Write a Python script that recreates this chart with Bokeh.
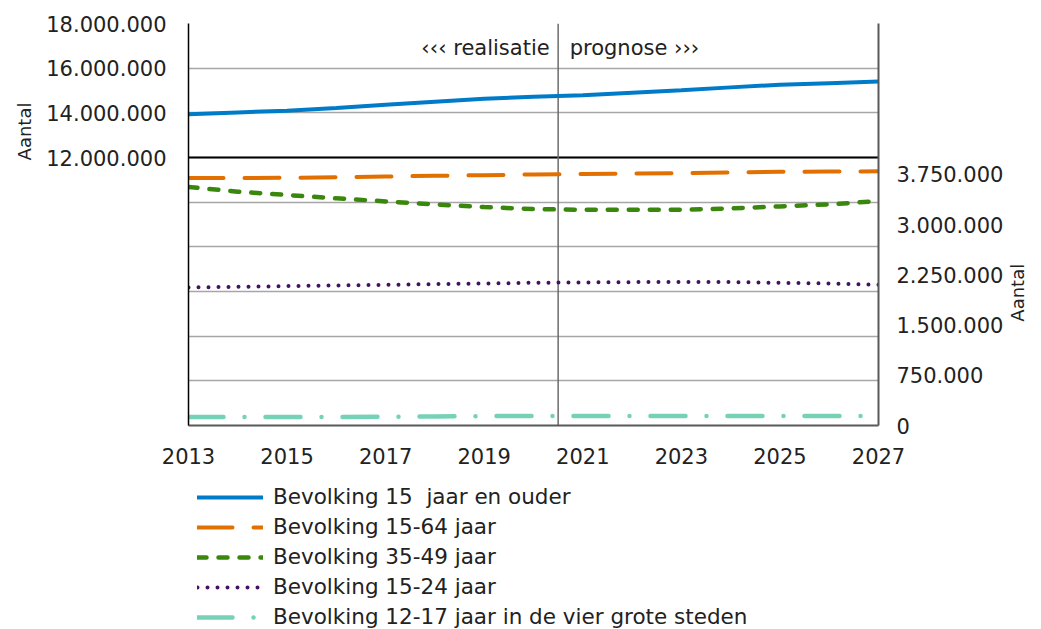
import math
from bokeh.plotting import figure
from bokeh.layouts import column
from bokeh.models import (Range1d, LinearAxis, FixedTicker, Span, Label,
                          Legend, LegendItem, ColumnDataSource)
from bokeh.embed import file_html
from bokeh.resources import INLINE

# ---------------- data ----------------
years = [2013, 2014, 2015, 2016, 2017, 2018, 2019, 2020,
         2021, 2022, 2023, 2024, 2025, 2026, 2027]

# left axis (0 - 18.000.000)
bev_15_plus = [13940000, 14020000, 14090000, 14220000, 14360000, 14500000, 14630000, 14720000,
               14790000, 14900000, 15010000, 15140000, 15260000, 15330000, 15400000]
bev_15_64 = [11080000, 11080000, 11090000, 11120000, 11150000, 11180000, 11210000, 11240000,
             11260000, 11280000, 11300000, 11330000, 11360000, 11370000, 11380000]

# right axis (0 - 6.000.000)
bev_35_49 = [3560000, 3490000, 3440000, 3390000, 3345000, 3300000, 3260000, 3230000,
             3220000, 3220000, 3220000, 3240000, 3270000, 3300000, 3350000]
bev_15_24 = [2060000, 2070000, 2080000, 2090000, 2100000, 2110000, 2120000, 2130000,
             2135000, 2140000, 2140000, 2140000, 2130000, 2120000, 2100000]
bev_12_17_g4 = [128000, 127000, 127000, 128000, 131000, 136000, 140000, 142000,
                143000, 143000, 143000, 143000, 143000, 143000, 143000]

series_labels = ["Bevolking 15  jaar en ouder", "Bevolking 15-64 jaar", "Bevolking 35-49 jaar",
                 "Bevolking 15-24 jaar", "Bevolking 12-17 jaar in de vier grote steden"]

x_ticks = [2013, 2015, 2017, 2019, 2021, 2023, 2025, 2027]
left_ticks = [12000000, 14000000, 16000000, 18000000]
left_tick_labels = ["12.000.000", "14.000.000", "16.000.000", "18.000.000"]
right_ticks = [0, 750000, 1500000, 2250000, 3000000, 3750000]
right_tick_labels = ["0", "750.000", "1.500.000", "2.250.000", "3.000.000", "3.750.000"]
grid_ticks = [0, 2000000, 4000000, 6000000, 8000000, 10000000, 12000000, 14000000, 16000000, 18000000]
left_range = (0, 18000000)
right_range = (0, 6000000)
split_year = 2020.5
divider_value = 12000000
axis_title = "Aantal"
left_title_at = 14460000     # anchor of the left "Aantal" (left scale)
right_title_at = 1550000     # anchor of the right "Aantal" (right scale)
left_note = "\u2039\u2039\u2039 realisatie"
right_note = "prognose \u203a\u203a\u203a"

# ---------------- style ----------------
FONT = "DejaVu Sans"
TXT = "#222222"
C_BLUE, C_ORANGE, C_GREEN, C_PURPLE, C_MINT = "#007BC7", "#E17000", "#39870C", "#42145F", "#76D2B6"
STYLES = [
    dict(line_color=C_BLUE, line_width=4, line_cap="round"),
    dict(line_color=C_ORANGE, line_width=4, line_cap="round", line_dash="35 21"),
    dict(line_color=C_GREEN, line_width=4.5, line_cap="round", line_dash="9 12"),
    dict(line_color=C_PURPLE, line_width=4, line_cap="round", line_dash="0 10"),
    dict(line_color=C_MINT, line_width=4.5, line_cap="round", line_dash="35 21 0 21"),
]

src = ColumnDataSource(dict(year=years, b15p=bev_15_plus, b1564=bev_15_64,
                            b3549=bev_35_49, b1524=bev_15_24, b1217=bev_12_17_g4))

W = 1041
p = figure(width=W, height=470, x_range=Range1d(years[0], years[-1]),
           y_range=Range1d(*left_range), output_backend="svg", toolbar_location=None,
           min_border_left=188, min_border_right=W - 878, min_border_top=23, min_border_bottom=45)
p.outline_line_color = None
p.background_fill_color = "white"
p.extra_y_ranges = {"right": Range1d(*right_range)}

# grid
p.xgrid.visible = False
p.ygrid.ticker = FixedTicker(ticks=grid_ticks)
p.ygrid.grid_line_color = "#A6A6A6"
p.ygrid.grid_line_width = 1.5


def style_axis(ax, standoff, size="21px"):
    ax.major_tick_line_color = None
    ax.minor_tick_line_color = None
    ax.major_label_standoff = standoff
    ax.major_label_text_font = FONT
    ax.major_label_text_font_size = size
    ax.major_label_text_color = TXT


# x axis
xa = p.xaxis[0]
xa.ticker = FixedTicker(ticks=x_ticks)
style_axis(xa, 16)
xa.axis_line_color = "#595959"
xa.axis_line_width = 2

# left axis
ya = p.yaxis[0]
ya.ticker = FixedTicker(ticks=left_ticks)
ya.major_label_overrides = {t: l for t, l in zip(left_ticks, left_tick_labels)}
style_axis(ya, 16)
ya.axis_line_color = "black"
ya.axis_line_width = 1.5

# left title as an outer axis
lt = LinearAxis(ticker=FixedTicker(ticks=[left_title_at]))
lt.major_label_overrides = {left_title_at: axis_title}
style_axis(lt, 13, "18px")
lt.major_label_orientation = math.pi / 2
lt.axis_line_color = None
p.add_layout(lt, "left")

# right axis
ra = LinearAxis(y_range_name="right", ticker=FixedTicker(ticks=right_ticks))
ra.major_label_overrides = {t: l for t, l in zip(right_ticks, right_tick_labels)}
style_axis(ra, 12)
ra.axis_line_color = "#595959"
ra.axis_line_width = 2
p.add_layout(ra, "right")

# right title as an outer axis
rt = LinearAxis(y_range_name="right", ticker=FixedTicker(ticks=[right_title_at]))
rt.major_label_overrides = {right_title_at: axis_title}
style_axis(rt, 5, "18px")
rt.major_label_orientation = math.pi / 2
rt.axis_line_color = None
p.add_layout(rt, "right")

# spans
p.add_layout(Span(location=divider_value, dimension="width", line_color="black",
                  line_width=2, level="underlay"))
p.add_layout(Span(location=split_year, dimension="height", line_color="#6B6B6B",
                  line_width=1.5, level="underlay"))

# lines
cols = ["b15p", "b1564", "b3549", "b1524", "b1217"]
ranges = ["default", "default", "right", "right", "right"]
for c, rn, st in zip(cols, ranges, STYLES):
    p.line("year", c, source=src, y_range_name=rn, **st)

# notes
p.add_layout(Label(x=split_year, y=378, y_units="screen", x_offset=-8.5, text=left_note,
                   text_align="right", text_baseline="middle", text_font=FONT,
                   text_font_size="21px", text_color=TXT))
p.add_layout(Label(x=split_year, y=378, y_units="screen", x_offset=11.5, text=right_note,
                   text_align="left", text_baseline="middle", text_font=FONT,
                   text_font_size="21px", text_color=TXT))

# ---------------- legend strip below ----------------
LH = 158
q = figure(width=W, height=LH, x_range=Range1d(0, 1), y_range=Range1d(0, 1),
           output_backend="svg", toolbar_location=None,
           x_axis_location=None, y_axis_location=None,
           min_border=0, min_border_left=0, min_border_right=0,
           min_border_top=0, min_border_bottom=0)
q.outline_line_color = None
q.grid.visible = False
nan = float("nan")
items = []
for lab, st in zip(series_labels, STYLES):
    rr = q.line(x=[nan], y=[nan], **st)   # legend key only, nothing visible
    items.append(LegendItem(label=lab, renderers=[rr]))
legend = Legend(items=items, location=(9, -3.5), orientation="vertical",
                glyph_width=66, glyph_height=30, label_height=30, spacing=0,
                padding=0, margin=0, label_standoff=10,
                border_line_color=None, background_fill_alpha=0,
                label_text_font=FONT, label_text_font_size="21.5px",
                label_text_color=TXT)
q.add_layout(legend)

layout = column(p, q, spacing=0)
open("out.html", "w").write(file_html(layout, INLINE))
